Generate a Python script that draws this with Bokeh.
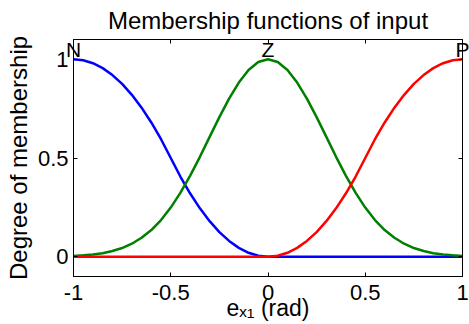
from bokeh.plotting import figure
from bokeh.models import LinearAxis, FixedTicker, Range1d
from bokeh.embed import file_html
from bokeh.resources import INLINE

# ---- data ----
x_vals = [-1.0, -0.95, -0.9, -0.85, -0.8, -0.75, -0.7, -0.65, -0.6, -0.55, -0.5,
          -0.45, -0.4, -0.35, -0.3, -0.25, -0.2, -0.15, -0.1, -0.05, 0.0,
          0.05, 0.1, 0.15, 0.2, 0.25, 0.3, 0.35, 0.4, 0.45, 0.5,
          0.55, 0.6, 0.65, 0.7, 0.75, 0.8, 0.85, 0.9, 0.95, 1.0]
mf_N = [1.0, 0.995, 0.98, 0.955, 0.92, 0.875, 0.82, 0.755, 0.68, 0.595, 0.5,
        0.405, 0.32, 0.245, 0.18, 0.125, 0.08, 0.045, 0.02, 0.005, 0.0,
        0.0, 0.0, 0.0, 0.0, 0.0, 0.0, 0.0, 0.0, 0.0, 0.0,
        0.0, 0.0, 0.0, 0.0, 0.0, 0.0, 0.0, 0.0, 0.0, 0.0]
mf_Z = [0.004, 0.007, 0.011, 0.018, 0.029, 0.044, 0.066, 0.096, 0.135, 0.186, 0.249,
        0.325, 0.411, 0.506, 0.607, 0.707, 0.801, 0.882, 0.946, 0.986, 1.0,
        0.986, 0.946, 0.882, 0.801, 0.707, 0.607, 0.506, 0.411, 0.325, 0.249,
        0.186, 0.135, 0.096, 0.066, 0.044, 0.029, 0.018, 0.011, 0.007, 0.004]
mf_P = [0.0, 0.0, 0.0, 0.0, 0.0, 0.0, 0.0, 0.0, 0.0, 0.0, 0.0,
        0.0, 0.0, 0.0, 0.0, 0.0, 0.0, 0.0, 0.0, 0.0, 0.0,
        0.005, 0.02, 0.045, 0.08, 0.125, 0.18, 0.245, 0.32, 0.405, 0.5,
        0.595, 0.68, 0.755, 0.82, 0.875, 0.92, 0.955, 0.98, 0.995, 1.0]
mf_names = ["N", "Z", "P"]
mf_centers = [-1.0, 0.0, 1.0]
x_ticks = [-1, -0.5, 0, 0.5, 1]
x_tick_labels = ["-1", "-0.5", "0", "0.5", "1"]
y_ticks = [0, 0.5, 1]
y_tick_labels = ["0", "0.5", "1"]
title_text = "Membership functions of input"
xlabel_text = "e\u2093\u2081 (rad)"
ylabel_text = "Degree of membership"

FONT = "Liberation Sans"

p = figure(width=469, height=324, x_range=Range1d(-1, 1), y_range=Range1d(-0.1, 1.1),
           output_backend="svg", toolbar_location=None,
           min_border_left=73, min_border_right=7, min_border_top=39, min_border_bottom=48,
           x_axis_location=None, y_axis_location=None)
p.background_fill_color = "white"
p.border_fill_color = "white"
p.outline_line_color = "black"
p.outline_line_width = 1
p.grid.visible = False

p.title.text = title_text
p.title.text_font = FONT
p.title.text_font_size = "24px"
p.title.text_font_style = "normal"
p.title.text_color = "black"
p.title.align = "center"
p.title.standoff = 2

def make_axis(ticks, labels, show_labels):
    ax = LinearAxis(ticker=FixedTicker(ticks=ticks))
    ax.major_label_overrides = {t: (l if show_labels else "") for t, l in zip(ticks, labels)}
    ax.major_tick_in = 4
    ax.major_tick_out = 0
    ax.minor_tick_line_color = None
    ax.axis_line_color = "black"
    ax.major_tick_line_color = "black"
    ax.major_label_text_font = FONT
    ax.major_label_text_color = "black"
    if show_labels:
        ax.major_label_text_font_size = "22px"
    else:
        ax.major_label_text_font_size = "0px"
        ax.major_label_standoff = 0
    return ax

xb = make_axis(x_ticks, x_tick_labels, True)
xb.major_label_standoff = 8
xb.axis_label = xlabel_text
xb.axis_label_text_font = FONT
xb.axis_label_text_font_size = "23px"
xb.axis_label_text_font_style = "normal"
xb.axis_label_text_color = "black"
xb.axis_label_standoff = -8
p.add_layout(xb, "below")

yl = make_axis(y_ticks, y_tick_labels, True)
yl.major_label_standoff = 5
yl.axis_label = ylabel_text
yl.axis_label_text_font = FONT
yl.axis_label_text_font_size = "24px"
yl.axis_label_text_font_style = "normal"
yl.axis_label_text_color = "black"
yl.axis_label_standoff = 3
p.add_layout(yl, "left")

p.add_layout(make_axis(x_ticks, x_tick_labels, False), "above")
p.add_layout(make_axis(y_ticks, y_tick_labels, False), "right")

# membership-function names, drawn as the labels of an extra (tickless) top axis
name_axis = LinearAxis(ticker=FixedTicker(ticks=mf_centers))
name_axis.major_label_overrides = {c: n for c, n in zip(mf_centers, mf_names)}
name_axis.major_tick_line_color = None
name_axis.minor_tick_line_color = None
name_axis.axis_line_color = None
name_axis.major_label_text_font = FONT
name_axis.major_label_text_font_size = "21px"
name_axis.major_label_text_color = "black"
name_axis.major_label_standoff = -27
p.add_layout(name_axis, "above")

p.line(x_vals, mf_N, line_color="#0000ff", line_width=2.5)
p.line(x_vals, mf_Z, line_color="#008000", line_width=2.5)
p.line(x_vals, mf_P, line_color="#ff0000", line_width=2.5)

open("out.html", "w").write(file_html(p, INLINE))
